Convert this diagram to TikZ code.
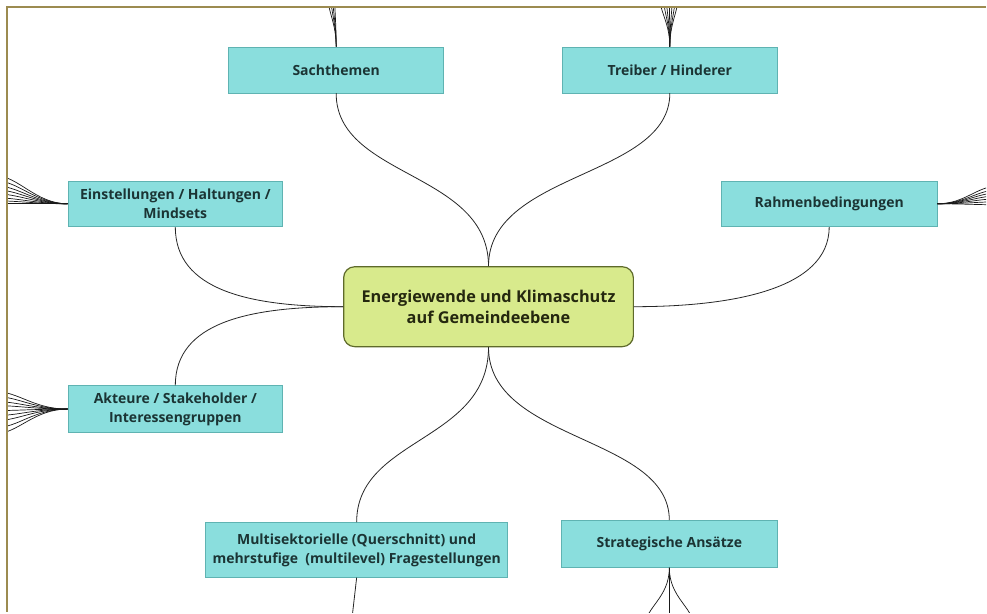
\documentclass[tikz,border=0pt]{standalone}
\usepackage{fontspec}
\setsansfont{Open Sans}
\usetikzlibrary{positioning}
\definecolor{topicfill}{HTML}{8ADEDD}
\definecolor{topicedge}{HTML}{5FB3B2}
\definecolor{topictext}{HTML}{1B3434}
\definecolor{corefill}{HTML}{D8EA8C}
\definecolor{coreedge}{HTML}{5E6A2A}
\definecolor{coretext}{HTML}{25280F}
\definecolor{framecol}{HTML}{9C8B50}
\tikzstyle{topic} = [rectangle, draw=topicedge, line width=0.6pt, fill=topicfill,
      text=topictext, font=\fontsize{14}{19}\selectfont\sffamily\bfseries,
      align=center, inner sep=0pt, minimum width=215pt, minimum height=46pt]
\tikzstyle{core} = [rectangle, draw=coreedge, line width=1.2pt, fill=corefill,
      rounded corners=11pt, text=coretext, font=\fontsize{16.3}{21.5}\selectfont\sffamily\bfseries,
      align=center, inner sep=0pt, minimum width=290pt, minimum height=80pt]
\tikzstyle{line} = [draw, line width=0.8pt, black!85]
\tikzstyle{twig} = [draw, line width=0.7pt, black!90]
\tikzstyle{frame} = [draw=framecol, line width=2pt]

\begin{document}
\begin{tikzpicture}[x=1pt, y=-1pt]
	  \fill [white] (0,0) rectangle (987,613);
	  % Nodes
	  \node [core] (core) at (489,307) {Energiewende und Klimaschutz\\auf Gemeindeebene};
	  \node [topic] (sach) at (336.5,70) {Sachthemen};
	  \node [topic] (treib) at (670.5,70) {Treiber / Hinderer};
	  \node [topic] (einst) at (175.5,204) {Einstellungen / Haltungen /\\Mindsets};
	  \node [topic, minimum width=216pt] (rahmen) at (830,204) {Rahmenbedingungen};
	  \node [topic, minimum height=47pt] (akt) at (175.5,409.5) {Akteure / Stakeholder /\\Interessengruppen};
	  \node [topic, minimum width=302pt, minimum height=55pt] (multi) at (357,550.5) {Multisektorielle (Querschnitt) und\\mehrstufige~ (multilevel) Fragestellungen};
	  \node [topic, minimum width=216pt, minimum height=47pt] (strat) at (670,544.5) {Strategische Ansätze};
	  % Hauptaeste
	  \path [line] (core.north) .. controls +(0,-95) and +(0,85) .. (sach.south);
	  \path [line] (core.north) .. controls +(0,-95) and +(0,85) .. (treib.south);
	  \path [line] (core.west) .. controls +(-94,0) and +(0,63) .. (einst.south);
	  \path [line] (core.west) .. controls +(-94,0) and +(0,-63) .. (akt.north);
	  \path [line] (core.east) .. controls +(96,0) and +(0,63) .. (rahmen.south);
	  \path [line] (core.south) .. controls +(0,95) and +(0,-85) .. (multi.north);
	  \path [line] (core.south) .. controls +(0,95) and +(0,-85) .. (strat.north);
	  % Zweige nach aussen
	  \begin{scope}
	    \clip (7,7) rectangle (987,613);
	    \foreach \x in {328,331,333,335}
	      {\coordinate (sachOut\x) at (\x,-4);
	       \path [twig] (sach.north) .. controls +(0,-24) and +(0,15) .. (sachOut\x);}
	    \foreach \x in {660,664,667,670,673,676,679}
	      {\coordinate (treibOut\x) at (\x,-4);
	       \path [twig] (treib.north) .. controls +(0,-24) and +(0,15) .. (treibOut\x);}
	    \foreach \y in {176,181,186,190,194,198,201,204}
	      {\coordinate (einstOut\y) at (-4,\y);
	       \path [twig] (einst.west) .. controls +(-32,0) and +(22,0) .. (einstOut\y);}
	    \foreach \y in {392,397,402,406,411,416,421,428,434}
	      {\coordinate (aktOut\y) at (-4,\y);
	       \path [twig] (akt.west) .. controls +(-34,0) and +(22,0) .. (aktOut\y);}
	    \foreach \y in {186,190,193,196,199,202,205}
	      {\coordinate (rahmenOut\y) at (1000,\y);
	       \path [twig] (rahmen.east) .. controls +(28,0) and +(-22,0) .. (rahmenOut\y);}
	    \foreach \x in {646,670,694}
	      {\coordinate (stratOut\x) at (\x,626);
	       \path [twig] (strat.south) .. controls +(0,30) and +(0,-18) .. (stratOut\x);}
	    \coordinate (multiOut) at (352,622);
	    \path [line] (multi.south) -- (multiOut);
	  \end{scope}
	  % Rahmen
	  \path [frame] (987,7) -- (7,7) -- (7,613);
\end{tikzpicture}
\end{document}
